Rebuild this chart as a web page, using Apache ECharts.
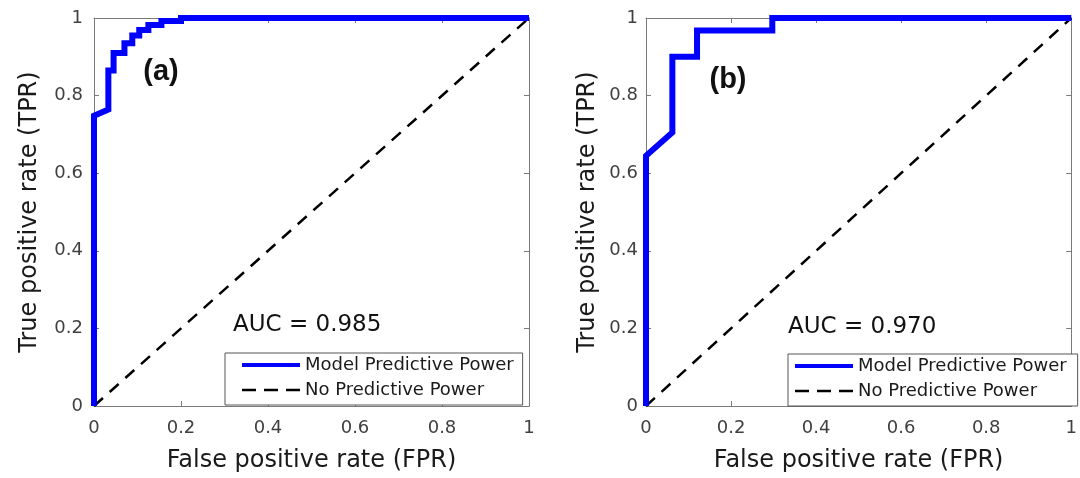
<!DOCTYPE html>
<html>
<head>
<meta charset="utf-8">
<script src="https://cdn.jsdelivr.net/npm/echarts@6/dist/echarts.min.js"></script>
<style>
html,body{margin:0;padding:0;background:#fff;}
#chart{width:1080px;height:478px;}
</style>
</head>
<body>
<div id="chart"></div>
<script>
// ---- data ----
const fprA = [0, 0, 0.033, 0.033, 0.045, 0.045, 0.07, 0.07, 0.088, 0.088, 0.104, 0.104, 0.125, 0.125, 0.155, 0.155, 0.2, 0.2, 1];
const tprA = [0, 0.748, 0.764, 0.865, 0.865, 0.91, 0.91, 0.935, 0.935, 0.955, 0.955, 0.969, 0.969, 0.982, 0.982, 0.992, 0.992, 1, 1];
const fprB = [0, 0, 0.062, 0.062, 0.12, 0.12, 0.297, 0.297, 1];
const tprB = [0, 0.645, 0.705, 0.9, 0.9, 0.968, 0.968, 1, 1];
const diagX = [0, 1];
const diagY = [0, 1];
const tickLabels = ['0', '0.2', '0.4', '0.6', '0.8', '1'];
const panelLabels = ['(a)', '(b)'];
const aucLabels = ['AUC = 0.985', 'AUC = 0.970'];
const seriesNames = ['Model Predictive Power', 'No Predictive Power'];

const pairs = (xs, ys) => xs.map((x, i) => [x, ys[i]]);
const fmt = v => tickLabels[Math.round(v / 0.2)];

const FONT = 'DejaVu Sans';
const axisGray = '#7a7a7a';

function xAxes(gi) {
  return [
    {
      type: 'value', gridIndex: gi, min: 0, max: 1, interval: 0.2, position: 'bottom',
      name: 'False positive rate (FPR)', nameLocation: 'middle', nameGap: 43,
      nameTextStyle: {fontFamily: FONT, fontSize: 24, color: '#1a1a1a'},
      axisLine: {show: true, lineStyle: {color: axisGray, width: 1}},
      axisTick: {show: true, inside: true, length: 5, lineStyle: {color: axisGray}},
      axisLabel: {formatter: fmt, fontFamily: FONT, fontSize: 18, color: '#404040', margin: 13},
      splitLine: {show: false}
    },
    {
      type: 'value', gridIndex: gi, min: 0, max: 1, interval: 0.2, position: 'top',
      axisLine: {show: true, onZero: false, lineStyle: {color: axisGray, width: 1}},
      axisTick: {show: true, inside: true, length: 5, lineStyle: {color: axisGray}},
      axisLabel: {show: false},
      splitLine: {show: false}
    }
  ];
}
function yAxes(gi, labelMargin, nameGap) {
  return [
    {
      type: 'value', gridIndex: gi, min: 0, max: 1, interval: 0.2, position: 'left',
      name: 'True positive rate (TPR)', nameLocation: 'middle', nameGap: nameGap, nameRotate: 90,
      nameTextStyle: {fontFamily: FONT, fontSize: 24, color: '#1a1a1a'},
      axisLine: {show: true, lineStyle: {color: axisGray, width: 1}},
      axisTick: {show: true, inside: true, length: 5, lineStyle: {color: axisGray}},
      axisLabel: {formatter: fmt, fontFamily: FONT, fontSize: 18, color: '#404040', margin: labelMargin},
      splitLine: {show: false}
    },
    {
      type: 'value', gridIndex: gi, min: 0, max: 1, interval: 0.2, position: 'right',
      axisLine: {show: true, onZero: false, lineStyle: {color: axisGray, width: 1}},
      axisTick: {show: true, inside: true, length: 5, lineStyle: {color: axisGray}},
      axisLabel: {show: false},
      splitLine: {show: false}
    }
  ];
}

function seriesFor(gi, fpr, tpr) {
  return [
    {
      name: seriesNames[1], type: 'line', xAxisIndex: gi * 2, yAxisIndex: gi * 2,
      data: pairs(diagX, diagY), symbol: 'none', clip: false, z: 3,
      itemStyle: {color: '#000'},
      lineStyle: {color: '#000', width: 2.5, type: [12, 9]}
    },
    {
      name: seriesNames[0], type: 'line', xAxisIndex: gi * 2, yAxisIndex: gi * 2,
      data: pairs(fpr, tpr), symbol: 'none', clip: false, z: 4,
      itemStyle: {color: '#0000ff'},
      lineStyle: {color: '#0000ff', width: 6, join: 'miter'}
    }
  ];
}

function legendFor(left, top, padding) {
  return {
    orient: 'vertical', left: left, top: top, padding: padding,
    itemWidth: 58, itemHeight: 14, itemGap: 7,
    backgroundColor: '#fff', borderColor: '#555', borderWidth: 1, borderRadius: 0,
    textStyle: {fontFamily: FONT, fontSize: 18, color: '#1a1a1a'},
    selectedMode: false,
    data: [
      {name: seriesNames[0], itemStyle: {opacity: 0, borderWidth: 0}, lineStyle: {color: '#0000ff', width: 4, type: 'solid', opacity: 1}},
      {name: seriesNames[1], itemStyle: {opacity: 0, borderWidth: 0}, lineStyle: {color: '#000', width: 2.5, type: [14, 8], opacity: 1}}
    ]
  };
}

const chart = echarts.init(document.getElementById('chart'), null, {renderer: 'canvas'});
chart.setOption({
  animation: false,
  backgroundColor: '#fff',
  grid: [
    {left: 94, right: 551, top: 18, bottom: 70},
    {left: 646, right: 2, top: 18, bottom: 69}
  ],
  xAxis: [...xAxes(0), ...xAxes(1)],
  yAxis: [...yAxes(0, 11, 52), ...yAxes(1, 8, 46)],
  legend: [legendFor(225, 353, [3, 9, 6, 15]), legendFor(788, 354, [3, 11, 6, 5])],
  series: [...seriesFor(0, fprA, tprA), ...seriesFor(1, fprB, tprB)],
  graphic: [
    {type: 'text', x: 161, y: 72, z: 10, style: {text: panelLabels[0], font: 'bold 29px "Liberation Sans"', fill: '#111', textAlign: 'center', textVerticalAlign: 'middle'}},
    {type: 'text', x: 728, y: 80, z: 10, style: {text: panelLabels[1], font: 'bold 29px "Liberation Sans"', fill: '#111', textAlign: 'center', textVerticalAlign: 'middle'}},
    {type: 'text', x: 233, y: 325, z: 10, style: {text: aucLabels[0], font: '23px "DejaVu Sans"', fill: '#111', textAlign: 'left', textVerticalAlign: 'middle'}},
    {type: 'text', x: 788, y: 327, z: 10, style: {text: aucLabels[1], font: '23px "DejaVu Sans"', fill: '#111', textAlign: 'left', textVerticalAlign: 'middle'}}
  ]
});
</script>
</body>
</html>
